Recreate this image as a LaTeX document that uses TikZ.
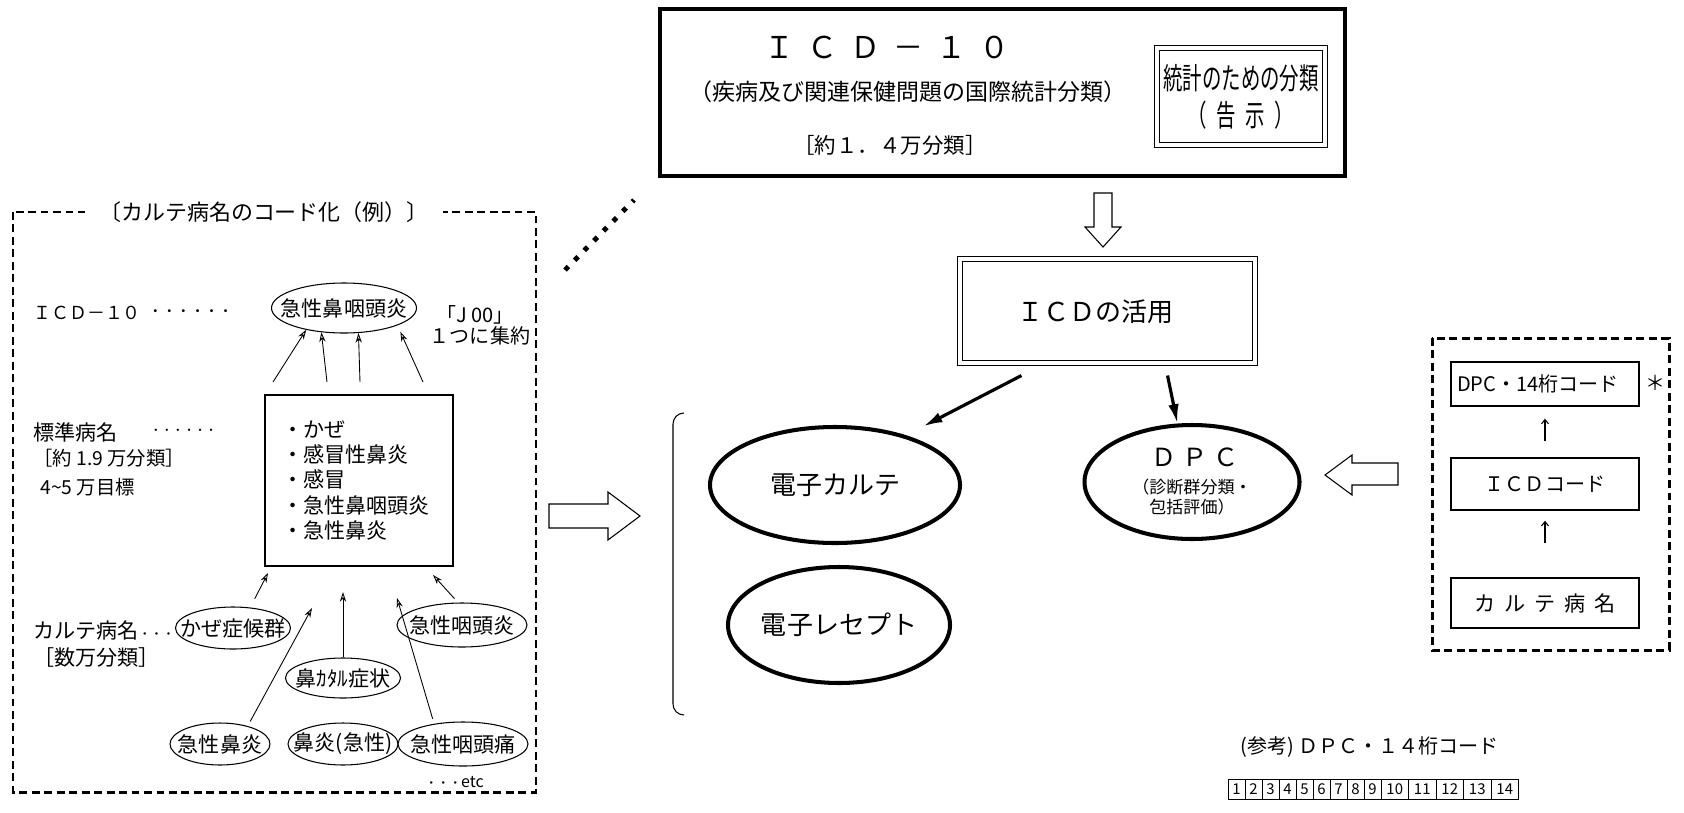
\documentclass[tikz,border=0pt]{standalone}
\usepackage{fontspec}
\setmainfont{Noto Sans CJK JP}
\usepackage{graphicx}
\usepackage{tikz}
\usetikzlibrary{arrows.meta}
\usetikzlibrary{shapes.geometric}
\usetikzlibrary{calc}

\newcommand\pxu{0.02cm}
\newcommand\jfs[1]{\fontsize{#1}{#1}\selectfont}
\newcommand\narrow[1]{\scalebox{0.65}[1]{#1}}

\tikzset{
  thickbox/.style={draw, line width=2.2pt},
  dashbox/.style={draw, line width=1.7pt, dash pattern=on 4.5pt off 2.6pt},
  dblbox/.style={draw, double, double distance=2pt, line width=0.6pt},
  fatell/.style={ellipse, draw, line width=2.3pt},
  thinell/.style={ellipse, draw, line width=0.6pt, inner xsep=-8pt, font=\jfs{12pt}},
  thinarr/.style={-{Stealth[open, length=5.5pt, width=3.6pt]}, line width=0.5pt},
  fatarr/.style={-{Latex[length=11pt, width=6pt]}, line width=1.8pt},
  smallup/.style={-{Straight Barb[length=2.5pt, width=4pt]}, line width=0.6pt},
  hollow/.style={draw, line width=0.6pt},
  codebox/.style={draw, line width=0.8pt, minimum width=188*\pxu},
  numbox/.style={draw, line width=0.5pt, minimum height=20*\pxu, font=\jfs{8.5pt}},
  every node/.style={inner sep=0pt}
}

\begin{document}
\begin{tikzpicture}[x=0.02cm,y=-0.02cm]
\useasboundingbox (0,0) rectangle (1684,812);

\node[thickbox, minimum width=685*\pxu, minimum height=167*\pxu] (icdbox) at (1002.5,92.5) {};
\node (icdten) at (887,47) {\jfs{17.1pt}\addfontfeatures{LetterSpace=43}ＩＣＤ－１０};
\node (icdsub) at (908,92) {\jfs{13.1pt}（疾病及び関連保健問題の国際統計分類）};
\node (icdnum) at (890,145) {\jfs{12.2pt}［約１．４万分類］};
\node[dblbox, align=center, minimum width=168*\pxu, minimum height=97*\pxu, font={\fontsize{17pt}{21pt}\selectfont}] (stat) at (1241,96.5) {\narrow{統計のための分類}\\\narrow{（\enspace 告\enspace 示\enspace ）}};

\draw[line width=2.8pt, dash pattern=on 2.8pt off 5pt] (565,270) -- (634,200);

\draw[hollow] (1094,193) -- (1112,193) -- (1112,227) -- (1121,227) -- (1103,247) -- (1085,227) -- (1094,227) -- cycle;

\node[dblbox, minimum width=295*\pxu, minimum height=104*\pxu] (use) at (1107.5,311) {};
\node (usetxt) at (1095,312) {\jfs{14.8pt}ＩＣＤの活用};

\draw[dashbox] (13,212) rectangle (536,792);
\node[fill=white, inner xsep=8pt, inner ysep=3pt] (ltitle) at (264,212) {\jfs{12.5pt}〔カルテ病名のコード化（例）〕};

\node[anchor=west] (licd) at (33,313) {\jfs{10.2pt}ＩＣＤ－１０};
\node[anchor=west] (ldotA) at (148,313) {\jfs{8pt}・・・・・・};
\node[thinell, minimum width=145*\pxu, minimum height=50*\pxu] (acute) at (344,308) {急性鼻咽頭炎};
\node (jcode) at (475,315) {\jfs{11.4pt}「J 00」};
\node (jone) at (480,336) {\jfs{11.4pt}１つに集約};

\node[anchor=west] (lstd) at (33,432) {\jfs{12pt}標準病名};
\node[anchor=west] (ldotB) at (150,432) {\jfs{6.3pt}・・・・・・};
\node[anchor=west] (lstdA) at (33,458) {\jfs{11pt}［約 1.9 万分類］};
\node[anchor=west] (lstdB) at (40,487) {\jfs{11pt}4\textasciitilde 5 万目標};

\node[draw, line width=0.8pt, minimum width=188*\pxu, minimum height=171*\pxu, text width=154*\pxu, align=left, font={\fontsize{12pt}{14.4pt}\selectfont}] (std) at (359,480.5) {・かぜ\\・感冒性鼻炎\\・感冒\\・急性鼻咽頭炎\\・急性鼻炎};

\coordinate (ta1) at (273,382);
\coordinate (ta2) at (327,382);
\coordinate (ta3) at (360,382);
\coordinate (ta4) at (423,382);
\draw[thinarr] (ta1) -- (acute.210);
\draw[thinarr] (ta2) -- (acute.227);
\draw[thinarr] (ta3) -- (acute.300);
\draw[thinarr, shorten >=4pt] (ta4) -- (acute.342);

\node[anchor=west] (lkar) at (33,630) {\jfs{12pt}カルテ病名{\jfs{6.8pt}・・・}};
\node[anchor=west] (lkarA) at (33,657) {\jfs{12pt}［数万分類］};

\node[thinell, minimum width=115*\pxu, minimum height=42*\pxu] (kaze) at (233,628) {かぜ症候群};
\node[thinell, minimum width=115*\pxu, minimum height=40*\pxu] (kataru) at (343,678) {鼻ｶﾀﾙ症状};
\node[thinell, minimum width=130*\pxu, minimum height=44*\pxu] (ien) at (462,625) {急性咽頭炎};
\node[thinell, minimum width=100*\pxu, minimum height=42*\pxu] (sbien) at (220,744) {急性鼻炎};
\node[thinell, minimum width=110*\pxu, minimum height=42*\pxu] (bien) at (343,744) {鼻炎(急性)};
\node[thinell, minimum width=130*\pxu, minimum height=44*\pxu] (itsu) at (463,744) {急性咽頭痛};

\coordinate (tb1) at (268,573);
\coordinate (tb2) at (312,608);
\coordinate (tb3) at (343,592);
\coordinate (tb4) at (397,598);
\coordinate (tb5) at (433,575);
\draw[thinarr, shorten <=5.5pt] (kaze.50) -- (tb1);
\draw[thinarr, shorten <=3pt] (sbien.33) -- (tb2);
\draw[thinarr] (kataru.north) -- (tb3);
\draw[thinarr, shorten <=3pt] (itsu.145) -- (tb4);
\draw[thinarr, shorten <=3pt] (ien.100) -- (tb5);

\node[anchor=west] (etc) at (425,782) {{\jfs{6.8pt}・・・}{\jfs{9.1pt}etc}};

\draw[hollow] (549,504) -- (608,504) -- (608,492) -- (640,516) -- (608,540) -- (608,528) -- (549,528) -- cycle;
\draw[line width=0.6pt] (684,413) to[out=180,in=90] (673,424) -- (673,704) to[out=-90,in=180] (684,715);

\node[fatell, minimum width=250*\pxu, minimum height=116*\pxu] (karte) at (835,485) {\jfs{14.8pt}電子カルテ};
\node[fatell, minimum width=222*\pxu, minimum height=116*\pxu] (recept) at (839,625) {\jfs{14.8pt}電子レセプト};
\node[fatell, minimum width=215*\pxu, minimum height=114*\pxu] (dpc) at (1192,482) {};
\node (dpcA) at (1195,457) {\jfs{14.2pt}\addfontfeatures{LetterSpace=25}ＤＰＣ};
\node (dpcB) at (1192,487) {\jfs{9.7pt}（診断群分類・};
\node (dpcC) at (1192,507) {\jfs{9.7pt}包括評価）};

\draw[fatarr, shorten >=11pt] ($(use.south west)+(62,12)$) -- (karte.35);
\draw[fatarr] ($(use.south east)+(-88,12)$) -- (dpc.104);

\draw[hollow] (1398,463) -- (1352,463) -- (1352,455) -- (1325,475) -- (1352,495) -- (1352,485) -- (1398,485) -- cycle;
\draw[dashbox] (1432,338) rectangle (1669,650);
\node[codebox, minimum height=44*\pxu, text width=176*\pxu, align=left, font=\jfs{11.4pt}] (dpcc) at (1545,384) {DPC・14桁コード};
\node (star) at (1655,383) {\jfs{11.4pt}＊};
\node[codebox, minimum height=52*\pxu, font=\jfs{11.4pt}] (icdc) at (1545,484) {ＩＣＤコード};
\node[codebox, minimum height=50*\pxu, font=\jfs{12pt}] (karc) at (1545,603) {\addfontfeatures{LetterSpace=43}カルテ病名};
\draw[smallup, shorten <=9pt, shorten >=6.8pt] (icdc) -- (dpcc);
\draw[smallup, shorten <=19.3pt, shorten >=5.7pt] (karc) -- (icdc);

\node[anchor=west] (refnote) at (1240,747) {\jfs{11.4pt}(参考) ＤＰＣ・１４桁コード};
\node[numbox, minimum width=17*\pxu] (n1) at (1236.5,789) {1};
\node[numbox, minimum width=17*\pxu] (n2) at (1253.5,789) {2};
\node[numbox, minimum width=17*\pxu] (n3) at (1270.5,789) {3};
\node[numbox, minimum width=17*\pxu] (n4) at (1287.5,789) {4};
\node[numbox, minimum width=17*\pxu] (n5) at (1304.5,789) {5};
\node[numbox, minimum width=17*\pxu] (n6) at (1321.5,789) {6};
\node[numbox, minimum width=17*\pxu] (n7) at (1338.5,789) {7};
\node[numbox, minimum width=17*\pxu] (n8) at (1355.5,789) {8};
\node[numbox, minimum width=17*\pxu] (n9) at (1372.5,789) {9};
\node[numbox, minimum width=27.5*\pxu] (n10) at (1394.75,789) {10};
\node[numbox, minimum width=27.5*\pxu] (n11) at (1422.25,789) {11};
\node[numbox, minimum width=27.5*\pxu] (n12) at (1449.75,789) {12};
\node[numbox, minimum width=27.5*\pxu] (n13) at (1477.25,789) {13};
\node[numbox, minimum width=27.5*\pxu] (n14) at (1504.75,789) {14};
\end{tikzpicture}
\end{document}
